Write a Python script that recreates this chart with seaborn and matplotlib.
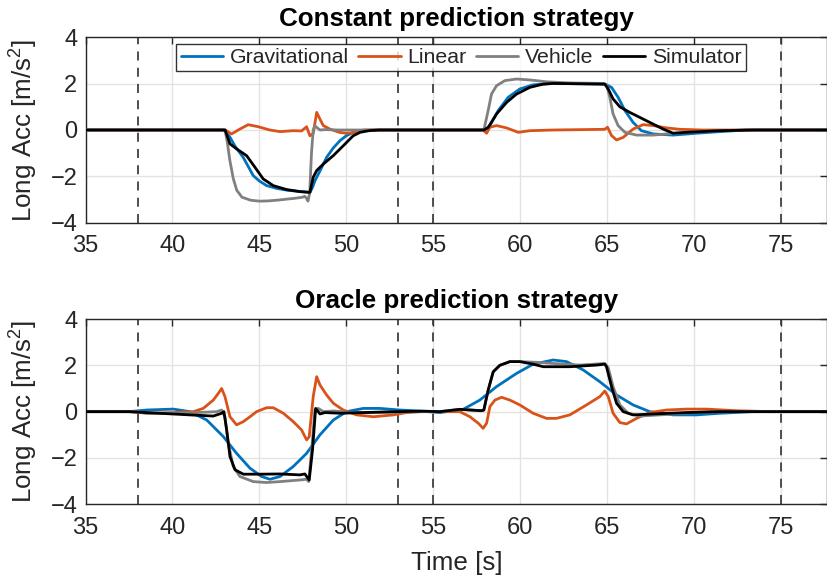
import numpy as np
import pandas as pd
import matplotlib
matplotlib.use("Agg")
import matplotlib.pyplot as plt
import seaborn as sns

# ---------------- data ----------------
series_names = ["Gravitational", "Linear", "Vehicle", "Simulator"]
titles = ["Constant prediction strategy", "Oracle prediction strategy"]
event_times = [38, 53, 55, 75]
x_ticks = [35, 40, 45, 50, 55, 60, 65, 70, 75]
y_ticks = [-4, -2, 0, 2, 4]

# Constant prediction strategy
t_c_grav = [35, 43.0, 43.3, 43.6, 44.07, 44.65, 45.0, 45.42, 46.0, 46.6, 47.3, 47.91, 48.05, 48.2, 48.5, 48.87, 49.25, 49.64, 50.0, 50.4, 51.0, 51.6,
             57.98, 58.27, 58.75, 59.32, 59.99, 60.76, 61.91, 64.88, 65.27, 65.65, 66.04, 66.51, 66.99, 67.67, 68.82, 70.16, 71.5, 73.0, 77.8]
v_c_grav = [0, 0, -0.3, -0.7, -1.18, -1.97, -2.2, -2.40, -2.52, -2.6, -2.65, -2.69, -2.5, -2.19, -1.75, -1.18, -0.78, -0.46, -0.25, -0.1, -0.03, 0,
            0, 0.19, 0.84, 1.41, 1.77, 1.95, 2.01, 1.98, 1.84, 1.41, 0.84, 0.33, -0.03, -0.17, -0.22, -0.14, -0.07, 0, 0]

t_c_lin = [35, 43.03, 43.4, 43.88, 44.36, 44.94, 45.6, 46.19, 46.95, 47.43, 47.72, 47.91, 48.1, 48.3, 48.49, 48.68, 49.06, 49.6, 50.0, 50.4, 51.0,
           57.88, 58.08, 58.27, 58.65, 59.23, 59.9, 60.57, 61.91, 64.88, 65.04, 65.27, 65.56, 65.94, 66.51, 67.09, 67.67, 68.43, 69.2, 70.5, 77.8]
v_c_lin = [0, 0, -0.17, 0.04, 0.23, 0.14, 0.0, -0.07, -0.03, -0.04, 0.14, -0.25, -0.15, 0.76, 0.47, 0.19, 0.04, -0.1, -0.14, -0.12, 0,
           0, -0.14, 0.12, 0.19, 0.09, -0.1, -0.03, 0, 0.03, 0.12, -0.24, -0.43, -0.32, 0.04, 0.23, 0.19, 0.09, 0.03, 0, 0]

t_c_veh = [35, 42.95, 43.05, 43.15, 43.3, 43.5, 43.7, 44.0, 44.5, 45.0, 45.5, 46.0, 46.5, 47.0, 47.5, 47.6, 47.7, 47.8, 47.9, 48.0, 48.1, 48.2, 48.35, 48.5, 48.8, 49.5,
           57.92, 58.17, 58.36, 58.65, 59.13, 59.8, 60.57, 61.53, 62.87, 64.79, 64.98, 65.17, 65.36, 65.65, 66.04, 66.71, 67.67, 68.43, 69.58, 71.5, 73.0, 77.8]
v_c_veh = [0, 0, -0.1, -0.5, -1.3, -2.1, -2.6, -2.9, -3.03, -3.07, -3.06, -3.03, -2.99, -2.95, -2.9, -2.86, -2.93, -3.07, -2.7, -1.0, 0.0, 0.18, 0.08, 0.0, 0.02, 0,
           0, 0.84, 1.55, 1.91, 2.13, 2.2, 2.16, 2.08, 2.03, 2.01, 1.96, 1.41, 0.69, 0.19, -0.1, -0.22, -0.22, -0.17, -0.1, -0.03, 0, 0]

t_c_sim = [35, 43.03, 43.31, 43.7, 44.27, 44.75, 45.22, 45.8, 46.57, 47.34, 47.91, 48.1, 48.3, 48.68, 49.25, 49.83, 50.4, 50.8, 51.3, 51.9,
           57.92, 58.17, 58.65, 59.23, 59.8, 60.57, 61.34, 61.91, 64.88, 65.08, 65.36, 65.75, 66.32, 67.28, 68.24, 68.82, 69.58, 71.5, 73.5, 77.8]
v_c_sim = [0, 0, -0.6, -0.82, -1.11, -1.61, -2.11, -2.40, -2.57, -2.66, -2.69, -2.04, -1.75, -1.47, -1.11, -0.68, -0.25, -0.1, -0.03, 0,
           0, 0.11, 0.69, 1.19, 1.55, 1.84, 1.98, 2.01, 1.98, 1.77, 1.34, 1.0, 0.76, 0.4, 0.04, -0.14, -0.1, -0.03, 0, 0]

# Oracle prediction strategy
t_o_grav = [35, 37.5, 38.51, 40.05, 41.0, 41.97, 42.93, 43.69, 44.46, 45.13, 45.61, 46.19, 46.95, 47.72, 48.49, 49.26, 50.02, 50.98, 51.94, 53.09, 54.24,
            55.39, 56.73, 57.69, 58.65, 59.8, 60.76, 61.91, 62.68, 63.64, 64.6, 65.56, 66.51, 67.47, 68.82, 70.16, 71.5, 73.4, 77.8]
v_o_grav = [0, 0, 0.07, 0.11, 0, -0.36, -1.08, -1.8, -2.44, -2.8, -2.92, -2.8, -2.37, -1.8, -1.0, -0.36, 0, 0.14, 0.14, 0.07, 0.03,
            -0.04, 0.1, 0.5, 1.08, 1.65, 2.05, 2.23, 2.16, 1.8, 1.29, 0.72, 0.29, 0, -0.14, -0.14, -0.07, 0, 0]

t_o_lin = [35, 38.0, 38.51, 40.05, 41.2, 41.77, 42.35, 42.64, 42.83, 43.02, 43.31, 43.69, 44.08, 44.46, 44.84, 45.42, 45.8, 46.38, 46.95, 47.43, 47.72, 47.87,
           48.1, 48.3, 48.49, 48.87, 49.26, 49.83, 50.6, 51.56, 52.71, 53.47, 54.2,
           56.54, 57.12, 57.6, 57.88, 58.08, 58.27, 58.56, 58.94, 59.42, 59.99, 60.76, 61.53, 62.1, 62.87, 63.83, 64.6, 64.88, 65.08, 65.36, 65.75, 66.13,
           66.71, 67.47, 68.43, 69.58, 70.73, 72.46, 74.5, 77.8]
v_o_lin = [0, 0, -0.07, -0.04, 0, 0.14, 0.5, 0.79, 1.0, 0.65, -0.22, -0.57, -0.43, -0.22, 0, 0.17, 0.17, -0.07, -0.43, -0.79, -1.22, -1.08,
           0.65, 1.51, 1.15, 0.72, 0.36, 0.07, -0.14, -0.22, -0.14, -0.04, 0,
           0, -0.22, -0.5, -0.72, -0.5, 0.22, 0.5, 0.62, 0.5, 0.29, -0.07, -0.29, -0.29, -0.14, 0.29, 0.65, 0.89, 0.65, -0.07, -0.47, -0.53,
           -0.29, -0.04, 0.07, 0.11, 0.11, 0.04, 0, 0]

t_o_veh = [35, 37.5, 38.51, 40.43, 41.39, 42.54, 42.83, 43.02, 43.21, 43.5, 43.88, 44.65, 45.42, 46.19, 47.34, 47.72, 47.84, 48.01, 48.2, 48.39, 48.68, 49.26, 50.5, 53.0, 54.5,
           55.39, 56.54, 57.79, 57.92, 58.17, 58.46, 58.84, 59.42, 59.99, 60.95, 61.91, 63.45, 64.88, 65.08, 65.36, 65.75, 66.23, 66.9, 68.05, 69.58, 71.5, 77.8]
v_o_veh = [0, 0, -0.07, -0.07, -0.04, 0, 0.07, -0.22, -1.37, -2.37, -2.8, -3.02, -3.06, -3.02, -2.95, -2.92, -3.02, -1.65, 0.07, 0.14, 0, 0.03, -0.04, -0.02, 0,
           0, 0.1, 0.04, 0.07, 0.93, 1.72, 2.0, 2.16, 2.16, 2.13, 2.08, 2.01, 2.08, 1.9, 1.08, 0.29, -0.07, -0.19, -0.14, -0.06, 0, 0]

t_o_sim = [35, 37.5, 38.51, 41.0, 42.35, 42.83, 42.96, 43.12, 43.31, 43.6, 44.08, 45.04, 46.19, 47.34, 47.62, 47.87, 48.06, 48.24, 48.49, 48.78, 49.64, 50.98, 52.9, 54.5,
           55.39, 56.54, 57.79, 57.92, 58.17, 58.46, 58.84, 59.42, 59.99, 60.76, 61.34, 62.87, 64.4, 64.88, 64.98, 65.27, 65.56, 65.94, 66.51, 67.67, 69.58, 71.5, 77.8]
v_o_sim = [0, 0, -0.04, -0.14, -0.19, -0.07, 0, -0.79, -1.94, -2.51, -2.7, -2.7, -2.69, -2.73, -2.69, -2.95, -1.65, 0.14, -0.1, -0.04, -0.07, -0.04, 0, 0.02,
           0, 0.1, 0.04, 0.07, 0.93, 1.72, 2.0, 2.16, 2.16, 2.05, 1.94, 1.94, 2.01, 2.05, 1.94, 1.08, 0.36, 0, -0.14, -0.1, -0.04, 0, 0]

panels = [
    [(t_c_grav, v_c_grav), (t_c_lin, v_c_lin), (t_c_veh, v_c_veh), (t_c_sim, v_c_sim)],
    [(t_o_grav, v_o_grav), (t_o_lin, v_o_lin), (t_o_veh, v_o_veh), (t_o_sim, v_o_sim)],
]
colors = ["#0072BD", "#D95319", "#808080", "#000000"]

# ---------------- styling ----------------
sns.set_theme(style="white")
plt.rcParams["font.family"] = ["Liberation Sans", "DejaVu Sans"]
plt.rcParams["mathtext.fontset"] = "custom"
plt.rcParams["mathtext.rm"] = "Liberation Sans"

TICK_FS = 17
LABEL_FS = 18.7

W, H = 828, 580
fig = plt.figure(figsize=(W / 100, H / 100), dpi=100)
left = 85.6 / W
right = 827.5 / W
axes_px = [(37.3, 222.7), (319.0, 504.3)]

for i, (ptop, pbot) in enumerate(axes_px):
    ax = fig.add_axes([left, 1 - pbot / H, right - left, (pbot - ptop) / H])
    for et in event_times:
        ax.axvline(et, color="#404040", linestyle=(0, (5, 4)), linewidth=1.3, zorder=1)
    for (t, v), name, c in zip(panels[i], series_names, colors):
        df = pd.DataFrame({"t": t, "v": v})
        sns.lineplot(data=df, x="t", y="v", ax=ax, color=c, linewidth=2.0,
                     label=name, estimator=None, sort=False, zorder=3)
    ax.set_xlim(35, 77.7)
    ax.set_ylim(-4, 4)
    ax.set_xticks(x_ticks)
    ax.set_yticks(y_ticks)
    ax.grid(True, color="#e3e3e3", linewidth=1.0, zorder=0)
    ax.set_axisbelow(True)
    for s in ax.spines.values():
        s.set_color("#262626")
        s.set_linewidth(1.0)
    ax.tick_params(direction="in", top=True, right=True, length=5, width=1.0,
                   labelsize=TICK_FS, colors="#262626")
    ax.tick_params(axis="x", pad=9)
    ax.tick_params(axis="y", pad=6)
    ax.set_ylabel("Long Acc [m/s$^2$]", fontsize=LABEL_FS, color="#262626", labelpad=8)
    ax.set_title(titles[i], fontsize=LABEL_FS, fontweight="bold", color="black", pad=8)
    if i == 0:
        ax.set_xlabel("")
        leg = ax.legend(loc="upper center", bbox_to_anchor=(0.506, 0.965), ncol=4,
                        fontsize=15.3, frameon=True, fancybox=False, edgecolor="black",
                        handlelength=2.0, handletextpad=0.3, columnspacing=0.45,
                        borderpad=0.2, borderaxespad=0.0)
        leg.get_frame().set_linewidth(1.0)
        for lh in leg.get_lines():
            lh.set_linewidth(2.0)
    else:
        ax.legend().remove()
        ax.set_xlabel("Time [s]", fontsize=LABEL_FS, color="#262626", labelpad=9)

fig.savefig("out.png", dpi=100)
